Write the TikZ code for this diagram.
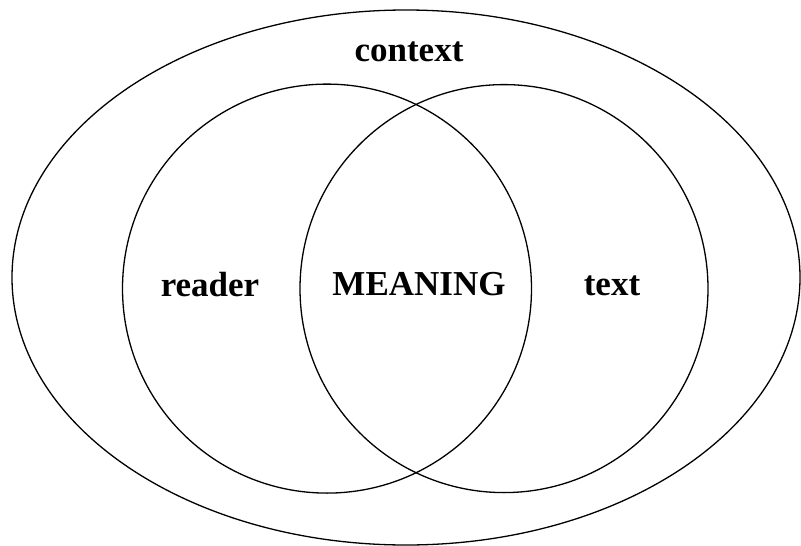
\documentclass[tikz,border=0pt]{standalone}
\usepackage{fontspec}
\setmainfont{Liberation Serif}
\begin{document}
\begin{tikzpicture}[x=1pt,y=-1pt,
  ring/.style={draw=black,line width=1.3pt},
  lbl/.style={font=\fontsize{35}{40}\selectfont\bfseries,anchor=base,inner sep=0pt}]
\useasboundingbox (0,0) rectangle (801,546);
\fill[white] (0,0) rectangle (801,546);
\draw[ring] (406,277.5) ellipse [x radius=394, y radius=267.5];
\draw[ring] (327,288.6) circle [radius=204.5];
\draw[ring] (504,288.6) circle [radius=204];
\node[lbl] (context) at (409,61) {context};
\node[lbl] (reader) at (210,296.5) {reader};
\node[lbl] (meaning) at (419,295.5) {MEANING};
\node[lbl] (text) at (612,295.5) {text};
\end{tikzpicture}
\end{document}
